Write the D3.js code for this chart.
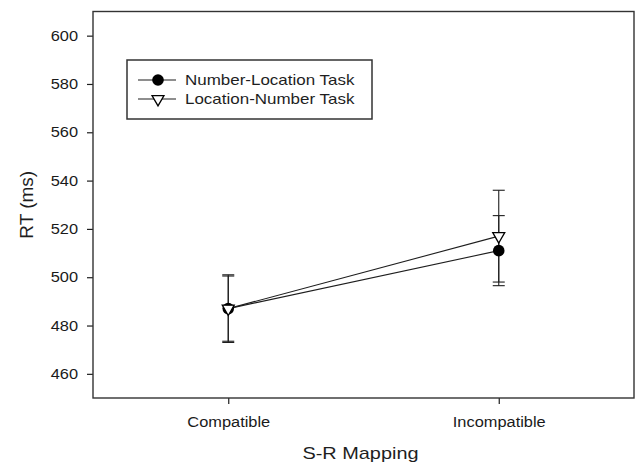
<!DOCTYPE html>
<html>
<head>
<meta charset="utf-8">
<script src="https://cdn.jsdelivr.net/npm/d3@7"></script>
<style>
  body { margin: 0; background: #fff; }
  svg { display: block; font-family: "Liberation Sans", Arial, sans-serif; }
  .tick text { fill: #1a1a1a; }
</style>
</head>
<body>
<svg width="635" height="468"></svg>
<script>
"use strict";

// values
const categories = ["Compatible", "Incompatible"];
const numLocMean = [487, 511];
const numLocErr = [13.5, 14.5];
const locNumMean = [487, 517];
const locNumErr = [14, 19];
const yTicks = [460, 480, 500, 520, 540, 560, 580, 600];
const seriesNames = ["Number-Location Task", "Location-Number Task"];

const svg = d3.select("svg");
const margin = { top: 11.5, right: 1, bottom: 70, left: 93 };
const width = +svg.attr("width");
const height = +svg.attr("height");
const innerWidth = width - margin.left - margin.right;
const innerHeight = height - margin.top - margin.bottom;
const sx = 1.17; // the original figure is a bit wider than tall
const ink = "#1e1e1e";

// widen a text sideways, glyphs included
const stretch = sel => sel.each(function() {
  const len = this.getComputedTextLength();
  d3.select(this)
    .attr("textLength", len * sx)
    .attr("lengthAdjust", "spacingAndGlyphs");
});

const series = [
  { name: seriesNames[0], mean: numLocMean, err: numLocErr, shape: "circle" },
  { name: seriesNames[1], mean: locNumMean, err: locNumErr, shape: "triangle" }
];

const xScale = d3.scalePoint()
  .domain(categories)
  .range([0, innerWidth])
  .padding(0.5);

const yScale = d3.scaleLinear()
  .domain([450, 610])
  .range([innerHeight, 0]);

const g = svg.append("g")
  .attr("transform", `translate(${margin.left},${margin.top})`);

const yAxisG = g.append("g")
  .call(d3.axisLeft(yScale).tickValues(yTicks).tickSize(6).tickPadding(9));
const xAxisG = g.append("g")
  .attr("transform", `translate(0,${innerHeight})`)
  .call(d3.axisBottom(xScale).tickSize(6).tickPadding(13));

[yAxisG, xAxisG].forEach(ax => {
  ax.select(".domain").remove();
  ax.selectAll(".tick line").attr("stroke", ink).attr("stroke-width", 1.2);
  ax.selectAll(".tick text")
    .attr("font-family", null)
    .style("font-size", "14px")
    .call(stretch);
});

g.append("rect")
  .attr("width", innerWidth)
  .attr("height", innerHeight)
  .attr("fill", "none")
  .attr("stroke", "#333")
  .attr("stroke-width", 1.4);

// axis titles
g.append("text")
  .attr("x", innerWidth / 2 - 3)
  .attr("y", 459 - margin.top)
  .attr("text-anchor", "middle")
  .style("font-size", "17px")
  .attr("fill", ink)
  .text("S-R Mapping")
  .call(stretch);

const yTitleX = 33;
const yTitleY = margin.top + innerHeight / 2;
svg.append("text")
  .attr("x", yTitleX)
  .attr("y", yTitleY)
  .attr("transform", `rotate(-90,${yTitleX},${yTitleY})`)
  .attr("text-anchor", "middle")
  .style("font-size", "19px")
  .attr("fill", ink)
  .text("RT (ms)");

const tri = d3.symbol().type(d3.symbolTriangle).size(62);
const drawMarker = (sel, shape) => {
  if (shape === "circle") {
    sel.append("circle").attr("r", 5.8).attr("fill", "#000");
  } else {
    sel.append("path").attr("d", tri())
      .attr("transform", "rotate(180)")
      .attr("fill", "#fff")
      .attr("stroke", "#000")
      .attr("stroke-width", 1.3);
  }
};

const line = d3.line()
  .x(d => xScale(d.cat))
  .y(d => yScale(d.m));

const rows = s => categories.map((c, i) => ({ cat: c, m: s.mean[i], e: s.err[i] }));

// connecting lines
series.forEach(s => {
  g.append("path")
    .datum(rows(s))
    .attr("d", line)
    .attr("fill", "none")
    .attr("stroke", ink)
    .attr("stroke-width", 1.1);
});

// error bars
const cap = 6;
series.forEach(s => {
  const eb = g.append("g").selectAll("g")
    .data(rows(s))
    .join("g")
    .attr("stroke", ink)
    .attr("stroke-width", 1.1);
  eb.append("line")
    .attr("x1", d => xScale(d.cat)).attr("x2", d => xScale(d.cat))
    .attr("y1", d => yScale(d.m - d.e)).attr("y2", d => yScale(d.m + d.e));
  [-1, 1].forEach(sign => {
    eb.append("line")
      .attr("x1", d => xScale(d.cat) - cap).attr("x2", d => xScale(d.cat) + cap)
      .attr("y1", d => yScale(d.m + sign * d.e)).attr("y2", d => yScale(d.m + sign * d.e));
  });
});

// markers
series.forEach(s => {
  g.append("g").selectAll("g")
    .data(rows(s))
    .join("g")
    .attr("transform", d => `translate(${xScale(d.cat)},${yScale(d.m)})`)
    .each(function() { drawMarker(d3.select(this), s.shape); });
});

// legend
const legend = svg.append("g");
legend.append("rect")
  .attr("x", 127).attr("y", 60)
  .attr("width", 245).attr("height", 59)
  .attr("fill", "#fff")
  .attr("stroke", "#333")
  .attr("stroke-width", 1.5);

const item = legend.selectAll("g.item")
  .data(series)
  .join("g")
  .attr("class", "item")
  .attr("transform", (d, i) => `translate(0,${80 + i * 19})`);
item.append("line")
  .attr("x1", 138).attr("x2", 176)
  .attr("stroke", ink).attr("stroke-width", 1.1);
item.append("g")
  .attr("transform", "translate(158,0)")
  .each(function(d) { drawMarker(d3.select(this), d.shape); });
item.append("text")
  .attr("x", 185).attr("y", 5.2)
  .style("font-size", "14.5px")
  .attr("fill", ink)
  .text(d => d.name)
  .call(stretch);
</script>
</body>
</html>
